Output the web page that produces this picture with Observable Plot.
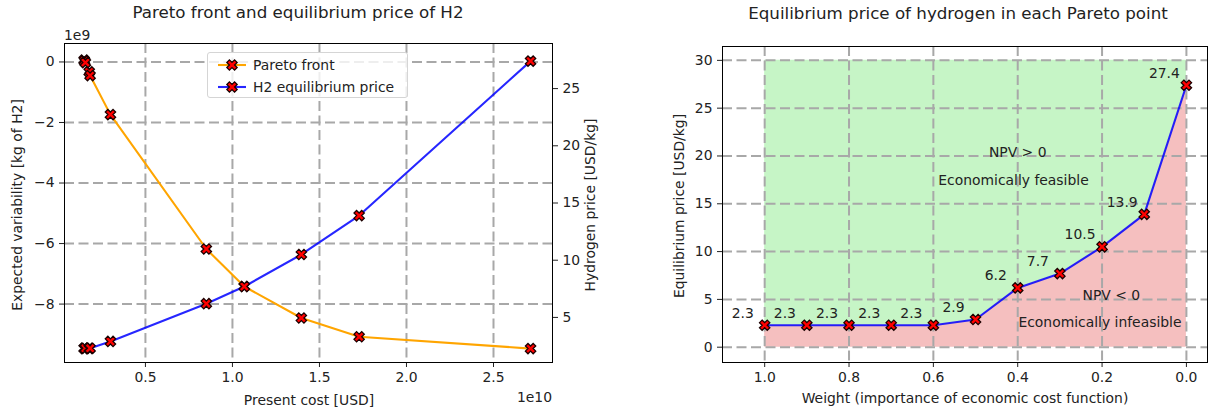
<!DOCTYPE html>
<html><head><meta charset="utf-8">
<script src="https://cdn.jsdelivr.net/npm/d3@7"></script>
<script src="https://cdn.jsdelivr.net/npm/@observablehq/plot@0.6"></script>
<style>
body{margin:0;background:#fff;}
#root{position:relative;width:1209px;height:410px;font-family:"DejaVu Sans",sans-serif;color:#222;overflow:hidden;background:#fff}
.abs{position:absolute;white-space:nowrap}
.title{font-size:16.7px;line-height:20px;transform:translate(-50%,-50%)}
.lab{font-size:13.9px;line-height:16px;transform:translate(-50%,-50%)}
.rot{transform:translate(-50%,-50%) rotate(-90deg)}
.layer{position:absolute;top:0}
</style></head><body><div id="root"></div>
<script>
// ---- data ----
const weights = [1.0, 0.9, 0.8, 0.7, 0.6, 0.5, 0.4, 0.3, 0.2, 0.1, 0.0];
const prices = [2.3, 2.3, 2.3, 2.3, 2.3, 2.9, 6.2, 7.7, 10.5, 13.9, 27.4];
const presentCost = [1.48e9, 1.50e9, 1.55e9, 1.77e9, 1.82e9, 2.99e9, 8.50e9, 10.68e9, 13.96e9, 17.28e9, 27.13e9];
const variability = [0.06e9, 0.03e9, -0.02e9, -0.33e9, -0.45e9, -1.74e9, -6.18e9, -7.42e9, -8.46e9, -9.08e9, -9.47e9];
const costTicks = [0.5e10, 1.0e10, 1.5e10, 2.0e10, 2.5e10];
const variabilityTicks = [-8e9, -6e9, -4e9, -2e9, 0];
const priceTicks = [5, 10, 15, 20, 25];
const weightTicks = [1.0, 0.8, 0.6, 0.4, 0.2, 0.0];
const eqPriceTicks = [0, 5, 10, 15, 20, 25, 30];
const feasibleTop = 30;
const regionLabels = ["NPV > 0", "Economically feasible", "NPV < 0", "Economically infeasible"];
const regionX = [0.40, 0.41, 0.178, 0.205];
const regionY = [20.4, 17.4, 5.44, 2.55];
const seriesNames = ["Pareto front", "H2 equilibrium price"];
const seriesColors = ["orange", "blue"];

const rows = weights.map((w, i) => ({w, p: prices[i], cost: presentCost[i], v: variability[i]}));

// matplotlib-like filled "X" marker
const symbolX = {
  draw(ctx, size) {
    const r = Math.sqrt(size / 20);
    const pts = [[-3,-1],[-1,-1],[-1,-3],[1,-3],[1,-1],[3,-1],[3,1],[1,1],[1,3],[-1,3],[-1,1],[-3,1]];
    const s = Math.SQRT1_2;
    pts.forEach(([a, b], k) => {
      const x = (a - b) * s * r, y = (a + b) * s * r;
      if (k === 0) ctx.moveTo(x, y); else ctx.lineTo(x, y);
    });
    ctx.closePath();
  }
};

const font = {fontFamily: "DejaVu Sans, sans-serif", fontSize: "13.9px", background: "transparent", color: "#222", overflow: "visible"};
const grid = {stroke: "#a8a8a8", strokeOpacity: 1, strokeWidth: 2, strokeDasharray: "10,4.5"};
const tick = {tickSize: 5, tickPadding: 5, label: null, stroke: "#222"};
const dotOpts = {symbol: symbolX, r: 4.6, fill: "red", stroke: "#1a0000", strokeWidth: 1.3};
const minus = d => d === 0 ? "0" : (d < 0 ? "\u2212" : "") + Math.abs(d);

const leftDims = {width: 600, height: 410, marginLeft: 64, marginRight: 48, marginTop: 43, marginBottom: 48, style: font};
const costDomain = [0.035e10, 2.839e10];

const plotA = Plot.plot({
  ...leftDims,
  x: {domain: costDomain},
  y: {domain: [-9.93e9, 0.61e9]},
  marks: [
    Plot.gridX(costTicks, grid),
    Plot.gridY(variabilityTicks, grid),
    Plot.axisX(costTicks, {...tick, tickFormat: d => (d / 1e10).toFixed(1)}),
    Plot.axisY(variabilityTicks, {...tick, tickFormat: d => minus(d / 1e9)}),
    Plot.line(rows, {x: "cost", y: "v", stroke: seriesColors[0], strokeWidth: 2.1}),
    Plot.dot(rows, {x: "cost", y: "v", ...dotOpts}),
    Plot.frame({stroke: "black", strokeWidth: 1})
  ]
});

const plotB = Plot.plot({
  ...leftDims,
  x: {domain: costDomain, axis: null},
  y: {domain: [1.06, 28.94]},
  marks: [
    Plot.axisY(priceTicks, {...tick, anchor: "right"}),
    Plot.line(rows, {x: "cost", y: "p", stroke: seriesColors[1], strokeWidth: 2.1, strokeOpacity: 0.85}),
    Plot.dot(rows, {x: "cost", y: "p", ...dotOpts})
  ]
});

const plotC = Plot.plot({
  width: 609, height: 410, marginLeft: 122, marginRight: 2, marginTop: 46, marginBottom: 48, style: font,
  x: {domain: [1.1, -0.05]},
  y: {domain: [-1.6, 31.45]},
  marks: [
    Plot.areaY(rows, {x: "w", y1: "p", y2: () => feasibleTop, fill: "#c6f5c6"}),
    Plot.areaY(rows, {x: "w", y1: () => 0, y2: "p", fill: "#f5bfbf"}),
    Plot.gridX(weightTicks, grid),
    Plot.gridY(eqPriceTicks, grid),
    Plot.axisX(weightTicks, {...tick, tickFormat: d => d.toFixed(1)}),
    Plot.axisY(eqPriceTicks, {...tick}),
    Plot.line(rows, {x: "w", y: "p", stroke: "blue", strokeWidth: 2.1, strokeOpacity: 0.85}),
    Plot.dot(rows, {x: "w", y: "p", ...dotOpts}),
    Plot.text(rows, {x: "w", y: "p", text: d => d.p.toFixed(1), dx: -22, dy: -12, fontSize: 13.9, fill: "#222"}),
    Plot.text(regionLabels, {x: (d, i) => regionX[i], y: (d, i) => regionY[i], text: d => d, fontSize: 13.9, fill: "#222"}),
    Plot.frame({stroke: "black", strokeWidth: 1})
  ]
});

const root = document.getElementById("root");
[[plotA, 0], [plotB, 0], [plotC, 600]].forEach(([svg, left]) => {
  svg.classList.add("layer");
  svg.style.left = left + "px";
  root.appendChild(svg);
});

function addText(txt, cls, x, y, extra) {
  const d = document.createElement("div");
  d.className = "abs " + cls;
  d.textContent = txt;
  d.style.left = x + "px";
  d.style.top = y + "px";
  if (extra) Object.assign(d.style, extra);
  root.appendChild(d);
  return d;
}
addText("Pareto front and equilibrium price of H2", "title", 298, 12);
addText("Equilibrium price of hydrogen in each Pareto point", "title", 958, 13);
addText("Present cost [USD]", "lab", 309, 400);
addText("Weight (importance of economic cost function)", "lab", 965, 398);
addText("Expected variability [kg of H2]", "lab rot", 17, 205);
addText("Hydrogen price [USD/kg]", "lab rot", 590, 205);
addText("Equilibrium price [USD/kg]", "lab rot", 679, 206);
addText("1e9", "lab", 64, 35, {transform: "translate(0,-50%)"});
addText("1e10", "lab", 552, 397, {transform: "translate(-100%,-50%)"});

// legend
const leg = document.createElement("div");
leg.className = "abs";
Object.assign(leg.style, {left: "207px", top: "52px", width: "201px", height: "46px", border: "1px solid #d5d5d5", borderRadius: "3px", background: "rgba(255,255,255,0.8)", boxSizing: "border-box"});
root.appendChild(leg);
const pth = d3.path(); symbolX.draw(pth, Math.PI * 4.6 * 4.6);
seriesNames.forEach((name, i) => {
  const cy = i === 0 ? 12 : 34;
  const sw = d3.create("svg").attr("width", 40).attr("height", 16)
    .style("position", "absolute").style("left", "3px").style("top", (cy - 8) + "px");
  sw.append("line").attr("x1", 7).attr("x2", 35).attr("y1", 8).attr("y2", 8)
    .attr("stroke", seriesColors[i]).attr("stroke-width", 2.1).attr("stroke-opacity", i ? 0.85 : 1);
  sw.append("path").attr("d", pth.toString()).attr("transform", "translate(21,8)")
    .attr("fill", "red").attr("stroke", "#1a0000").attr("stroke-width", 1.3);
  leg.appendChild(sw.node());
  const t = document.createElement("div");
  t.className = "abs";
  t.textContent = name;
  Object.assign(t.style, {left: "45px", top: (cy - 8) + "px", fontSize: "13.9px", lineHeight: "16px"});
  leg.appendChild(t);
});
</script></body></html>
